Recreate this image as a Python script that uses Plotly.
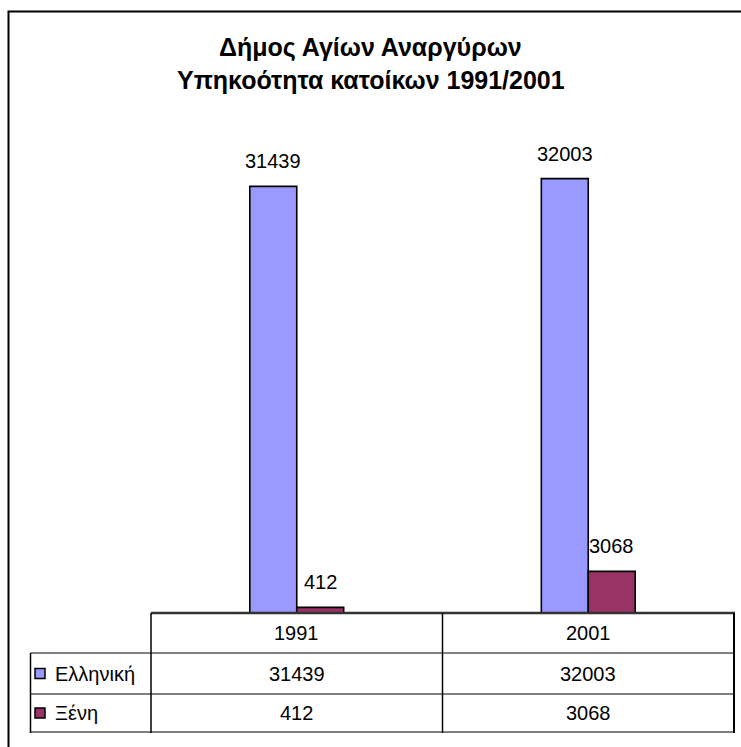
import plotly.graph_objects as go

# Population of Agioi Anargyroi by citizenship, census years 1991 and 2001
years = ["1991", "2001"]
series_names = ["Ελληνική", "Ξένη"]
greek = [31439, 32003]
foreign = [412, 3068]
series_values = [greek, foreign]
series_colors = ["#9999FF", "#993366"]

title_lines = ["Δήμος Αγίων Αναργύρων", "Υπηκοότητα κατοίκων 1991/2001"]

W, H = 741, 747
FONT = "Liberation Sans, Arial, sans-serif"

# plot area in pixels
PX0, PX1 = 151, 734
PY_TOP, PY_BASE = 138, 613
Y_MAX = 35000


def px(x):
    return x / W


def py(y):
    return 1 - y / H


fig = go.Figure()
for name, vals, col in zip(series_names, series_values, series_colors):
    fig.add_trace(go.Bar(
        x=years, y=vals, name=name,
        marker=dict(color=col, line=dict(color="black", width=1.6)),
        showlegend=False,
    ))

fig.update_layout(
    width=W, height=H,
    margin=dict(l=0, r=0, t=0, b=0),
    paper_bgcolor="white", plot_bgcolor="white",
    barmode="group", bargap=0.678, bargroupgap=0,
    font=dict(family=FONT, color="black"),
    xaxis=dict(domain=[px(PX0), px(PX1)], type="category",
               showticklabels=False, showgrid=False, zeroline=False,
               showline=False, ticks=""),
    yaxis=dict(domain=[py(PY_BASE), py(PY_TOP)], range=[0, Y_MAX],
               visible=False),
)

shapes = []
annotations = []

# outer chart border (right/bottom edges run off the page)
shapes.append(dict(type="rect", xref="paper", yref="paper",
                   x0=px(8.5), x1=px(W + 20), y0=py(H + 20), y1=py(11.5),
                   line=dict(color="black", width=2), layer="below"))

# title
for i, line in enumerate(title_lines):
    annotations.append(dict(text=f"<b>{line}</b>", xref="paper", yref="paper",
                            x=px(371), y=py(47 + 33 * i), xanchor="center",
                            yanchor="middle", showarrow=False,
                            font=dict(size=25, family=FONT, color="black")))

# value labels above the bars
n = len(series_names)
col_w = (PX1 - PX0) / len(years)
bar_w = col_w * (1 - 0.678) / n
for si, vals in enumerate(series_values):
    for ci, v in enumerate(vals):
        xc = PX0 + col_w * (ci + 0.5) + (si - (n - 1) / 2) * bar_w
        annotations.append(dict(text=str(v), xref="paper", yref="y",
                                x=px(xc), y=v, xanchor="center",
                                yanchor="middle", yshift=25, showarrow=False,
                                font=dict(size=20, family=FONT, color="black")))

# data table under the plot
ROW_Y = [613, 653, 694, 732]
LAB_X = 30.5
GREY = "#808080"


def hline(y, x0, x1, color, width=2):
    shapes.append(dict(type="line", xref="paper", yref="paper",
                       x0=px(x0), x1=px(x1), y0=py(y), y1=py(y),
                       line=dict(color=color, width=width)))


def vline(x, y0, y1, color="black", width=1.5):
    shapes.append(dict(type="line", xref="paper", yref="paper",
                       x0=px(x), x1=px(x), y0=py(y0), y1=py(y1),
                       line=dict(color=color, width=width)))


hline(ROW_Y[0], PX0, PX1 + 1, "#333333", 2.5)
for y in ROW_Y[1:]:
    hline(y, LAB_X, PX1 + 1, GREY, 2)
vline(LAB_X, ROW_Y[1], ROW_Y[3] + 1)
vline(PX0, ROW_Y[0], ROW_Y[3] + 1)
vline((PX0 + PX1) / 2, ROW_Y[0], ROW_Y[3] + 1)
vline(PX1, ROW_Y[0], ROW_Y[3] + 1, width=2)

cell_font = dict(size=20, family=FONT, color="black")
for ci, yr in enumerate(years):
    xc = PX0 + col_w * (ci + 0.5)
    annotations.append(dict(text=yr, xref="paper", yref="paper", x=px(xc),
                            y=py((ROW_Y[0] + ROW_Y[1]) / 2), xanchor="center",
                            yanchor="middle", showarrow=False, font=cell_font))
    for si, vals in enumerate(series_values):
        yc = (ROW_Y[si + 1] + ROW_Y[si + 2]) / 2
        annotations.append(dict(text=str(vals[ci]), xref="paper", yref="paper",
                                x=px(xc), y=py(yc), xanchor="center",
                                yanchor="middle", showarrow=False, font=cell_font))

# legend keys in the row headers
for si, (name, col) in enumerate(zip(series_names, series_colors)):
    yc = (ROW_Y[si + 1] + ROW_Y[si + 2]) / 2
    shapes.append(dict(type="rect", xref="paper", yref="paper",
                       x0=px(35), x1=px(45), y0=py(yc + 5), y1=py(yc - 5),
                       fillcolor=col, line=dict(color="black", width=1.5)))
    annotations.append(dict(text=name, xref="paper", yref="paper", x=px(53),
                            y=py(yc), xanchor="left", yanchor="middle",
                            showarrow=False, font=cell_font))

fig.update_layout(shapes=shapes, annotations=annotations)
fig.write_html("out.html")
